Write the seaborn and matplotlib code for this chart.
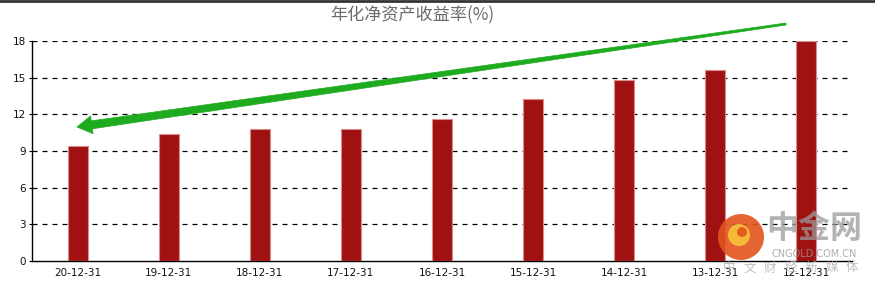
import matplotlib
matplotlib.use("Agg")
import matplotlib.pyplot as plt
import seaborn as sns
import pandas as pd
import math
from matplotlib.patches import Polygon, Circle
from matplotlib.lines import Line2D

# ---- data ----
periods = ["20-12-31", "19-12-31", "18-12-31", "17-12-31", "16-12-31",
           "15-12-31", "14-12-31", "13-12-31", "12-12-31"]
roe = [9.45, 10.4, 10.78, 10.83, 11.6, 13.25, 14.8, 15.62, 17.98]
y_ticks = [0, 3, 6, 9, 12, 15, 18]
title_text = "年化净资产收益率(%)"

df = pd.DataFrame({"period": periods, "roe": roe})

sns.set_theme(style="white")
plt.rcParams['font.family'] = ['DejaVu Sans']

W, H = 875, 286
fig = plt.figure(figsize=(W / 100, H / 100), dpi=100)
fig.patch.set_facecolor("white")
ax = fig.add_axes([32 / W, 1 - 261 / H, 820 / W, 220 / H])

sns.barplot(data=df, x="period", y="roe", order=periods, color="#a01212",
            saturation=1, width=0.22, edgecolor="#d98c8c", linewidth=0.8, ax=ax,
            zorder=3)

ax.set_ylim(0, 18)
ax.set_yticks(y_ticks)
ax.set_yticklabels([str(t) for t in y_ticks], fontsize=7.5, color="#111111")
ax.tick_params(axis="x", labelsize=7.5, colors="#111111", length=0, pad=5)
ax.tick_params(axis="y", length=2.5, width=0.8, color="black", pad=2, left=True)
ax.set_xlabel("")
ax.set_ylabel("")
for t in y_ticks[1:]:
    ax.axhline(t, color="black", linestyle=(0, (4, 4)), linewidth=0.9, zorder=1)
for s in ["top", "right"]:
    ax.spines[s].set_visible(False)
for s in ["left", "bottom"]:
    ax.spines[s].set_color("black")
    ax.spines[s].set_linewidth(1.0)
ax.set_facecolor("white")

# title
fig.text(412 / W, 1 - 15 / H, title_text, ha="center", va="center",
         fontsize=12.3, color="#6a6a6a",
         family=["Noto Sans CJK SC", "DejaVu Sans"])

# top border line
fig.add_artist(Line2D([0, 1], [1 - 1 / H, 1 - 1 / H], transform=fig.transFigure,
                      color="#333333", linewidth=2))

# green trend arrow (annotation, pixel geometry)
tip = (77.0, 127.0)
tail = (786.0, 24.0)
dx, dy = tail[0] - tip[0], tail[1] - tip[1]
L = math.hypot(dx, dy)
ux, uy = dx / L, dy / L
nx, ny = -uy, ux
hl, hw, sw0, sw1 = 15.0, 9.0, 4.0, 1.0
bx, by = tip[0] + hl * ux, tip[1] + hl * uy
pts_px = [
    tip,
    (bx + hw * nx, by + hw * ny),
    (bx + sw0 * nx, by + sw0 * ny),
    (tail[0] + sw1 * nx, tail[1] + sw1 * ny),
    (tail[0] - sw1 * nx, tail[1] - sw1 * ny),
    (bx - sw0 * nx, by - sw0 * ny),
    (bx - hw * nx, by - hw * ny),
]
pts = [(x / W, 1 - y / H) for x, y in pts_px]
fig.add_artist(Polygon(pts, closed=True, transform=fig.transFigure,
                       facecolor="#1fab1f", edgecolor="#1fab1f", linewidth=0.5,
                       zorder=10))

# watermark
fig.add_artist(Circle((741, H - 237), 23, transform=None, facecolor="#e2541c",
                      edgecolor="none", alpha=0.9, zorder=11))
fig.add_artist(Circle((739, H - 235), 11, transform=None, facecolor="#f7c23a",
                      edgecolor="none", alpha=0.9, zorder=12))
fig.add_artist(Circle((742, H - 232), 5, transform=None, facecolor="#e2541c",
                      edgecolor="none", alpha=0.9, zorder=13))
fig.text(814 / W, 1 - 229 / H, "中金网", ha="center", va="center", fontsize=23,
         color="#9a9a9a", alpha=0.75, fontweight="bold",
         family=["Noto Sans CJK SC", "DejaVu Sans"], zorder=12)
fig.text(814 / W, 1 - 254 / H, "CNGOLD.COM.CN", ha="center", va="center",
         fontsize=7, color="#9a9a9a", alpha=0.8, zorder=12)
sub = "中文财经新媒体"
for i, ch in enumerate(sub):
    fig.text((729 + i * 20.5) / W, 1 - 268 / H, ch, ha="center", va="center",
             fontsize=9, color="#b0b0b0", alpha=0.8,
             family=["Noto Sans CJK SC", "DejaVu Sans"], zorder=12)

fig.savefig("out.png", dpi=100, facecolor="white")
